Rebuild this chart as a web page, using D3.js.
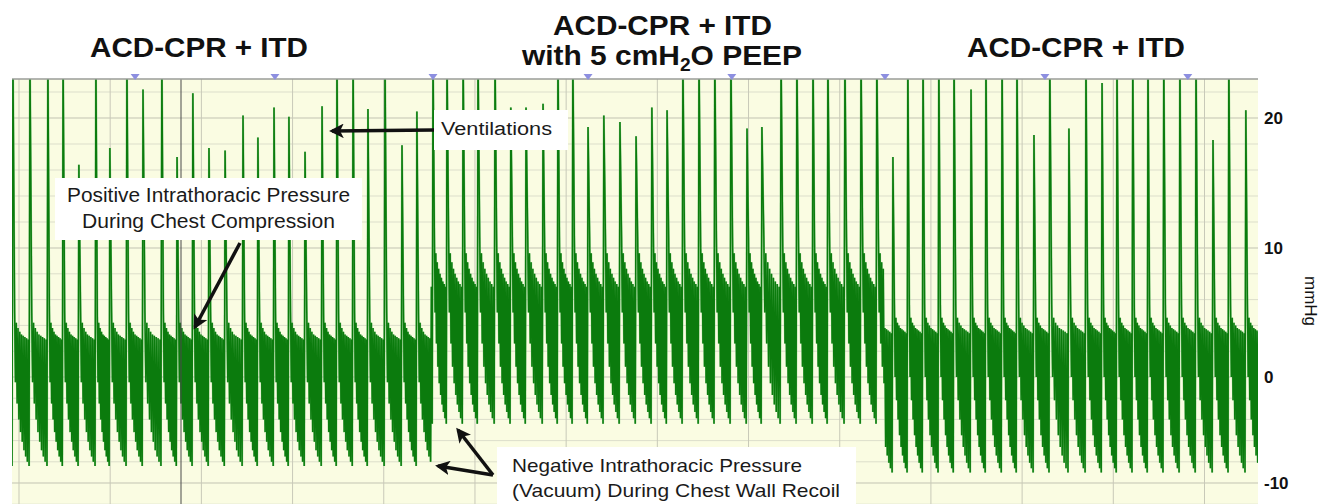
<!DOCTYPE html>
<html>
<head>
<meta charset="utf-8">
<script src="https://cdn.jsdelivr.net/npm/d3@7"></script>
<style>
  body { margin: 0; background: #fff; }
  svg { display: block; }
  text { font-family: "Liberation Sans", Arial, sans-serif; }
</style>
</head>
<body>
<svg id="chart"></svg>
<script>
// ---- data (time in s, pressure in mmHg) ----
const phaseStarts = [-2.3, 135.5, 284.6];

// ventilation breaths, phase 1: ACD-CPR + ITD
const ventTimes1 = [-2.0, 3.6, 9.5, 14.5, 19.7, 25.3, 29.9, 35.5, 40.8, 47.0, 52.0, 57.2, 62.5,
  67.8, 73.7, 78.6, 83.9, 88.8, 94.1, 99.7, 104.6, 109.9, 114.8, 120.4, 126.0, 130.9];
const ventPeaks1 = [25, 25, 25, 25, 16.4, 25, 17.7, 25, 22.2, 25, 17.0, 21.9, 17.7,
  17.5, 20.2, 18.5, 20.8, 20.1, 17.4, 20.9, 25, 25, 20.7, 25, 17.9, 20.5];

// phase 2: ACD-CPR + ITD with 5 cmH2O PEEP
const ventTimes2 = [136.2, 140.8, 146.1, 151.0, 156.6, 161.8, 166.8, 172.4, 177.3, 182.2, 187.2,
  192.4, 197.7, 203.0, 208.2, 213.2, 218.4, 223.7, 228.9, 234.2, 239.5, 244.4, 250.7, 255.9,
  261.2, 266.1, 271.7, 277.0, 282.2];
const ventPeaks2 = [25, 25, 25, 25, 25, 20.8, 20.8, 21.1, 25, 25, 19.3,
  20.2, 19.7, 18.6, 20.8, 20.6, 25, 25, 25, 25, 19.2, 19.3, 25, 25,
  25, 25, 25, 25, 25];

// phase 3: ACD-CPR + ITD
const ventTimes3 = [287.5, 292.4, 297.4, 302.6, 307.6, 313.2, 318.1, 323.4, 328.3, 333.9, 339.1,
  345.4, 351.0, 356.3, 361.2, 366.4, 371.4, 376.6, 381.9, 387.2, 392.8, 398.0, 403.6];
const ventPeaks3 = [17.0, 25, 25, 25, 25, 22.2, 25, 25, 25, 18.7, 25,
  19.2, 25, 22.7, 25, 25, 25, 25, 25, 25, 18.3, 25, 20.6];

// compressions between two breaths: peak / recoil trough, per phase
const compPeaks1 = [5.0, 4.2, 3.8, 3.5, 3.3, 3.2, 3.1, 3.0, 2.9];
const compTroughs1 = [-0.5, -2.5, -4.0, -5.2, -6.1, -6.9, -7.5, -8.0, -8.4];
const compPeaks2 = [10.8, 9.6, 8.9, 8.4, 8.0, 7.7, 7.4, 7.2, 7.0];
const compTroughs2 = [5.0, 2.6, 0.8, -0.6, -1.7, -2.6, -3.3, -3.9, -4.4];
const compPeaks3 = [5.6, 4.6, 4.2, 4.0, 3.8, 3.7, 3.6, 3.5, 3.4];
const compTroughs3 = [0.0, -2.2, -4.0, -5.5, -6.6, -7.4, -8.1, -8.6, -9.0];

const yTicks = [20, 10, 0, -10];
const eventMarks = [38.2, 84.2, 136.2, 187.2, 234.5, 284.9, 337.5, 384.5];
const eventLine = 53.3;

// ---- layout ----
const W = 1333, H = 504;
const plot = {left: 12, right: 1258, top: 79, bottom: 504};

const x = d3.scaleLinear().domain([-2.3, 407.6]).range([plot.left, plot.right]);
const y = d3.scaleLinear().domain([-10, 0, 10, 20]).range([483, 377, 248, 118]);

const svg = d3.select('#chart').attr('width', W).attr('height', H);

svg.append('defs').append('clipPath').attr('id', 'clip')
    .append('rect')
    .attr('x', plot.left).attr('y', plot.top)
    .attr('width', plot.right - plot.left).attr('height', plot.bottom - plot.top);

const marker = svg.select('defs').append('marker')
    .attr('id', 'head')
    .attr('viewBox', '0 0 10 10')
    .attr('refX', 8).attr('refY', 5)
    .attr('markerWidth', 4.2).attr('markerHeight', 4.2)
    .attr('orient', 'auto');
marker.append('path').attr('d', 'M0,0 L10,5 L0,10 L2.5,5 Z').attr('fill', '#111');

// background
svg.append('rect')
    .attr('x', plot.left).attr('y', plot.top)
    .attr('width', plot.right - plot.left).attr('height', plot.bottom - plot.top)
    .attr('fill', '#fafce2');

// grid
const grid = svg.append('g').attr('clip-path', 'url(#clip)');
grid.selectAll('.hg')
    .data(d3.range(-12, 24, 2))
    .join('line')
    .attr('x1', plot.left).attr('x2', plot.right)
    .attr('y1', d => y(d)).attr('y2', d => y(d))
    .attr('stroke', d => d % 10 === 0 ? '#c2c3b2' : '#dcdecb')
    .attr('stroke-width', 1);
grid.selectAll('.vg')
    .data(d3.range(0, 407, 30))
    .join('line')
    .attr('x1', d => x(d)).attr('x2', d => x(d))
    .attr('y1', plot.top).attr('y2', plot.bottom)
    .attr('stroke', '#c8c9b8')
    .attr('stroke-width', 1);

// build the pressure trace
const ventTimes = ventTimes1.concat(ventTimes2, ventTimes3);
const ventPeaks = ventPeaks1.concat(ventPeaks2, ventPeaks3);
const peaksByPhase = [compPeaks1, compPeaks2, compPeaks3];
const troughsByPhase = [compTroughs1, compTroughs2, compTroughs3];
const phaseOf = t => t >= phaseStarts[2] ? 2 : t >= phaseStarts[1] ? 1 : 0;

const trace = [{t: x.domain()[0], v: compTroughs1[compTroughs1.length - 1]}];
ventTimes.forEach((tv, i) => {
    const next = i < ventTimes.length - 1 ? ventTimes[i + 1] : tv + 5.2;
    const len = next - tv;
    trace.push({t: tv, v: ventPeaks[i]});
    const n = compPeaks1.length;
    for (let k = 0; k < n; k++) {
        const tp = tv + len * (0.1 + 0.9 * k / n);
        const tt = tp + len * 0.9 / (2 * n);
        const p = phaseOf(tp);
        trace.push({t: tp, v: peaksByPhase[p][k]});
        trace.push({t: tt, v: troughsByPhase[p][k]});
    }
});

const line = d3.line()
    .x(d => x(d.t))
    .y(d => y(d.v));

const sig = svg.append('g').attr('clip-path', 'url(#clip)');
sig.append('path')
    .datum(trace)
    .attr('fill', 'none')
    .attr('stroke', '#7cc47a')
    .attr('stroke-width', 2)
    .attr('d', line);
sig.append('path')
    .datum(trace)
    .attr('fill', 'none')
    .attr('stroke', '#0b7b0d')
    .attr('stroke-width', 1.4)
    .attr('d', line);

// event line and markers
svg.append('line')
    .attr('x1', x(eventLine)).attr('x2', x(eventLine))
    .attr('y1', plot.top).attr('y2', plot.bottom)
    .attr('stroke', '#4a4a4a').attr('stroke-width', 1);

svg.append('line')
    .attr('x1', plot.left).attr('x2', plot.right)
    .attr('y1', plot.top).attr('y2', plot.top)
    .attr('stroke', '#9a9c98').attr('stroke-width', 1.5);

svg.selectAll('.ev')
    .data(eventMarks)
    .join('path')
    .attr('d', d => `M${x(d) - 4.5},${plot.top - 5} L${x(d) + 4.5},${plot.top - 5} L${x(d)},${plot.top + 1} Z`)
    .attr('fill', '#8d8fe0');

// y axis on the right
const yAxis = svg.append('g')
    .attr('transform', `translate(${plot.right},0)`)
    .call(d3.axisRight(y).tickValues(yTicks).tickSize(0).tickPadding(6).tickFormat(d => String(d)));
yAxis.select('.domain').remove();
yAxis.selectAll('text')
    .attr('font-family', '"Liberation Sans", Arial, sans-serif')
    .attr('font-size', 17)
    .attr('font-weight', 'bold')
    .attr('fill', '#111');

svg.append('text')
    .attr('transform', 'translate(1305,301) rotate(90)')
    .attr('text-anchor', 'middle')
    .attr('font-size', 17)
    .attr('fill', '#111')
    .text('mmHg');

// phase titles
const title = (txt, x0, base, len) => svg.append('text')
    .attr('x', x0).attr('y', base)
    .attr('font-size', 28).attr('font-weight', 'bold').attr('fill', '#111')
    .attr('textLength', len).attr('lengthAdjust', 'spacingAndGlyphs')
    .text(txt);
title('ACD-CPR + ITD', 90, 57, 218);
title('ACD-CPR + ITD', 553, 35, 219);
title('ACD-CPR + ITD', 967, 57, 218);
const t2 = svg.append('text')
    .attr('x', 522).attr('y', 65)
    .attr('font-size', 28).attr('font-weight', 'bold').attr('fill', '#111')
    .attr('textLength', 280).attr('lengthAdjust', 'spacingAndGlyphs');
t2.append('tspan').text('with 5 cmH');
t2.append('tspan').attr('font-size', 18).attr('dy', 6).text('2');
t2.append('tspan').attr('dy', -6).text('O PEEP');

// annotations
const box = (x0, y0, w, h) => svg.append('rect')
    .attr('x', x0).attr('y', y0).attr('width', w).attr('height', h).attr('fill', '#fff');
const note = (txt, x0, base, size, len, anchor) => svg.append('text')
    .attr('x', x0).attr('y', base)
    .attr('font-size', size).attr('fill', '#1a1a1a')
    .attr('text-anchor', anchor || 'start')
    .attr('textLength', len).attr('lengthAdjust', 'spacingAndGlyphs')
    .text(txt);
const arrow = (x1, y1, x2, y2) => svg.append('line')
    .attr('x1', x1).attr('y1', y1).attr('x2', x2).attr('y2', y2)
    .attr('stroke', '#111').attr('stroke-width', 3.5)
    .attr('marker-end', 'url(#head)');

box(434, 110, 134, 40);
note('Ventilations', 441, 135, 18, 111);
arrow(434, 130, 332, 131);

box(55, 178, 307, 62);
note('Positive Intrathoracic Pressure', 67, 202, 20, 283);
note('During Chest Compression', 82, 228, 20, 253);
arrow(240, 243, 195, 327);

box(497, 447, 359, 57);
note('Negative Intrathoracic Pressure', 512, 472, 19, 290);
note('(Vacuum) During Chest Wall Recoil', 512, 497, 19, 328);
arrow(493, 475, 438, 466);
arrow(493, 475, 458, 430);
</script>
</body>
</html>
